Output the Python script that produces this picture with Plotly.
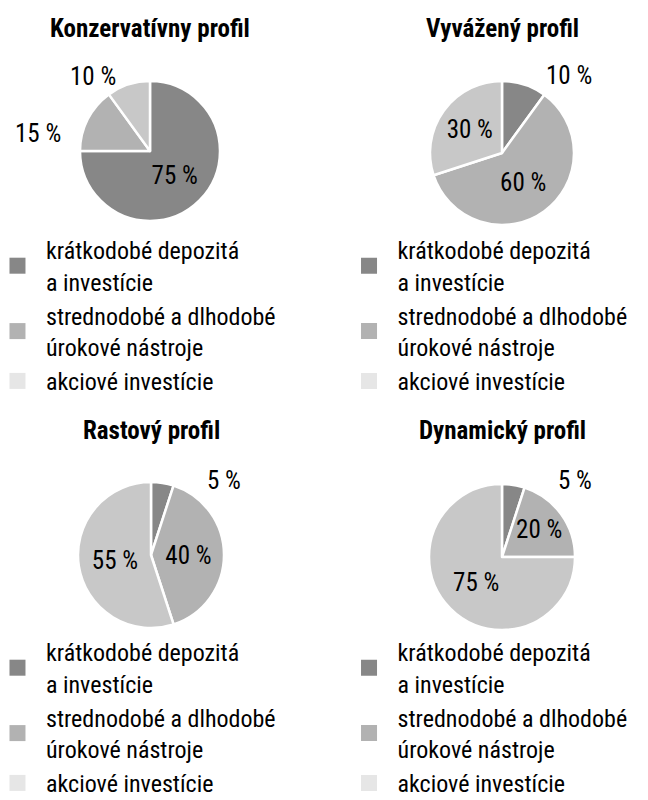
import plotly.graph_objects as go

titles = ["Konzervatívny profil", "Vyvážený profil", "Rastový profil", "Dynamický profil"]
categories = ["krátkodobé depozitá<br>a investície",
              "strednodobé a dlhodobé<br>úrokové nástroje",
              "akciové investície"]
values_konz = [75, 15, 10]
values_vyv = [10, 60, 30]
values_rast = [5, 40, 55]
values_dyn = [5, 20, 75]
all_values = [values_konz, values_vyv, values_rast, values_dyn]

slice_colors = ["#878787", "#b2b2b2", "#c8c8c8"]
legend_colors = ["#878787", "#b2b2b2", "#e6e6e6"]
# label placement per slice: "inside" or an (dx, dy) pixel offset from the pie centre
label_place = [
    ["inside", (-112, -18), (-57, -74)],
    [(67, -77), "inside", "inside"],
    [(73, -74), "inside", "inside"],
    [(73, -76), "inside", "inside"],
]

FONT = "Roboto Condensed, Liberation Sans Narrow, sans-serif"
W, H = 648, 800

# pie centers (px) and radii
centers = [(150, 151), (502, 153), (151, 555), (502, 557)]
radii = [70, 72, 73, 73]
title_y = [28, 28, 431, 431]
legend_pos = [(-0.017, 0.715), (0.5255, 0.715), (-0.017, 0.2125), (0.5255, 0.2125)]
legend_names = ["legend", "legend2", "legend3", "legend4"]

fig = go.Figure()
for i, vals in enumerate(all_values):
    cx, cy = centers[i]
    R = radii[i]
    positions = ["inside" if p == "inside" else "none" for p in label_place[i]]
    fig.add_trace(go.Pie(
        labels=categories, values=vals, sort=False, direction="clockwise",
        rotation=0, marker=dict(colors=slice_colors, line=dict(color="white", width=2.5)),
        texttemplate="%{value} %", textposition=positions,
        insidetextorientation="horizontal",
        textfont=dict(family=FONT, size=25, color="black"),
        domain=dict(x=[(cx - R) / W, (cx + R) / W], y=[1 - (cy + R) / H, 1 - (cy - R) / H]),
        showlegend=False, hoverinfo="label+percent",
    ))
    for v, p in zip(vals, label_place[i]):
        if p != "inside":
            fig.add_annotation(text=f"{v} %", x=(cx + p[0]) / W, y=1 - (cy + p[1]) / H,
                               xref="paper", yref="paper", xanchor="center", yanchor="middle",
                               showarrow=False,
                               font=dict(family=FONT, size=25, color="black"))
    fig.add_annotation(text="<b>" + titles[i] + "</b>", x=cx / W, y=1 - title_y[i] / H,
                       xref="paper", yref="paper", xanchor="center", yanchor="middle",
                       showarrow=False,
                       font=dict(family=FONT, size=25, color="black"))
    for j, cat in enumerate(categories):
        fig.add_trace(go.Scatter(
            x=[None], y=[None], mode="markers", name=cat,
            marker=dict(symbol="square", size=16, color=legend_colors[j]),
            legend=legend_names[i], showlegend=True,
        ))

layout_legends = {}
for i, ln in enumerate(legend_names):
    lx, ly = legend_pos[i]
    layout_legends[ln] = dict(x=lx, y=ly, xanchor="left", yanchor="top",
                              itemwidth=47,
                              font=dict(family=FONT, size=24, color="black"),
                              bgcolor="rgba(0,0,0,0)", itemclick=False, itemdoubleclick=False)

fig.update_layout(
    width=W, height=H, margin=dict(l=0, r=0, t=0, b=0, autoexpand=False),
    paper_bgcolor="white", plot_bgcolor="white",
    xaxis=dict(visible=False), yaxis=dict(visible=False),
    uniformtext=dict(minsize=25, mode="show"),
    **layout_legends,
)
fig.write_html("out.html")
